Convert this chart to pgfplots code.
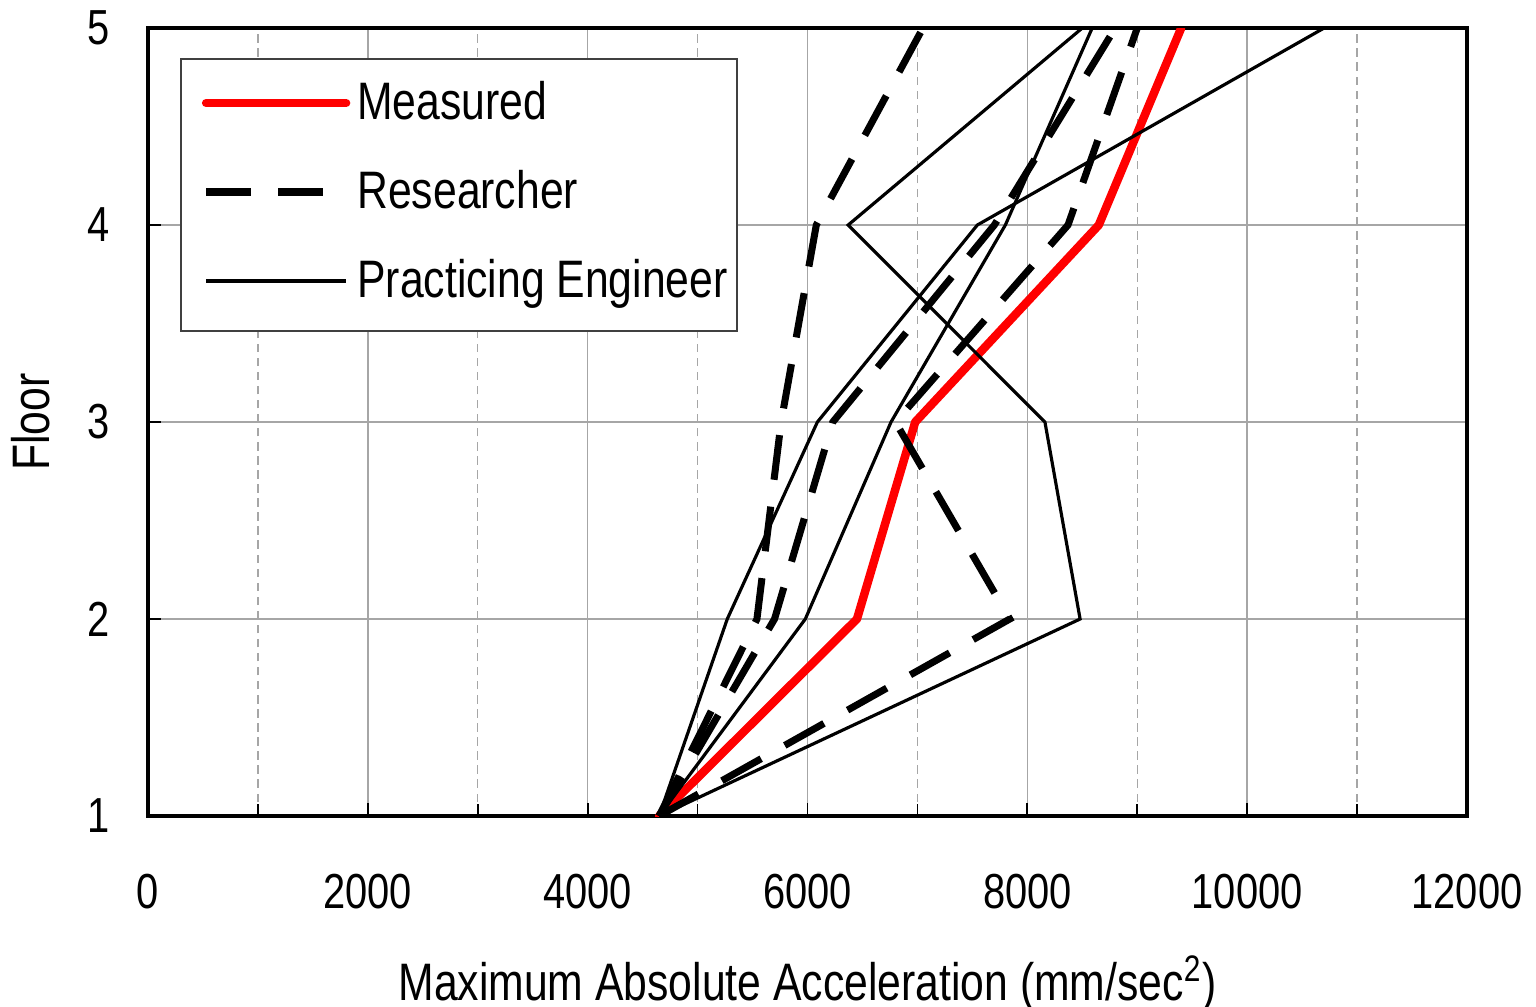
\documentclass[border=0pt]{standalone}
\usepackage{fontspec}
\setmainfont{Liberation Sans}[FakeStretch=0.81]
\usepackage{pgfplots}
\pgfplotsset{compat=1.18}

\begin{document}
\begin{tikzpicture}
\begin{axis}[
  scale only axis,
  width=13.19cm, height=7.88cm,
  xmin=0, xmax=12000, ymin=1, ymax=5,
  xtick={0,2000,...,12000},
  minor xtick={1000,3000,...,11000},
  ytick={1,2,3,4,5},
  scaled ticks=false,
  tick pos=left, tick align=inside,
  major tick length=0.13cm, minor tick length=0.12cm,
  every tick/.style={black, line width=0.5pt},
  grid=both,
  major grid style={black!35, line width=0.4pt},
  minor grid style={black!35, line width=0.4pt, dash pattern=on 2.4pt off 1.6pt},
  axis line style={line width=1pt},
  /pgf/number format/assume math mode=true,
  /pgf/number format/set thousands separator={},
  ticklabel style={font=\fontsize{14}{16}\selectfont, inner sep=0pt},
  xticklabel style={anchor=base, yshift=-0.92cm},
  yticklabel style={anchor=east, xshift=-0.38cm},
  xlabel={Maximum Absolute Acceleration (mm/sec\textsuperscript{2})},
  ylabel={Floor},
  label style={font=\fontsize{15}{18}\selectfont, inner sep=0pt},
  xlabel style={at={(axis description cs:0.5,0)}, anchor=base, yshift=-1.84cm},
  ylabel style={at={(axis description cs:0,0.5)}, anchor=base, yshift=0.98cm},
  legend cell align=left,
  legend image code/.code={%
    \path[draw=none] (0cm,0cm) -- (1.56cm,0cm);
    \draw[#1] (0.16cm,0.03cm) -- (1.56cm,0.03cm);},
  legend style={
    at={(rel axis cs:0.0243,0.962)}, anchor=north west,
    draw=black!75, line width=0.6pt, fill=white,
    inner xsep=0.09cm, inner ysep=0.22cm,
    row sep=0.39cm, column sep=0.07cm,
    font=\fontsize{15}{18}\selectfont,
    nodes={inner sep=0pt, text height=0.38cm, text depth=0.12cm},
  },
]

% measured response
\addplot[red, line width=2.4pt, line cap=round, line join=round]
  coordinates {(4650,1) (6450,2) (6980,3) (8650,4) (9400,5)};
\addlegendentry{Measured}

% researcher predictions
\addplot[black, line width=2pt, dash pattern=on 12.8pt off 7.7pt]
  coordinates {(4650,1) (5540,2) (5760,3) (6080,4) (7050,5)};
\addlegendentry{Researcher}
\addplot[black, line width=2pt, dash pattern=on 12.8pt off 7.7pt, forget plot]
  coordinates {(4650,1) (5700,2) (6230,3) (7700,4) (8800,5)};
\addplot[black, line width=2pt, dash pattern=on 12.8pt off 7.7pt, forget plot]
  coordinates {(4650,1) (7840,2) (6800,3) (8370,4) (9000,5)};

% practicing engineer predictions
\addplot[black, line width=0.9pt]
  coordinates {(4650,1) (5270,2) (6090,3) (7545,4) (10700,5)};
\addlegendentry{Practicing Engineer}
\addplot[black, line width=0.9pt, forget plot]
  coordinates {(4650,1) (5980,2) (6760,3) (7800,4) (8590,5)};
\addplot[black, line width=0.9pt, forget plot]
  coordinates {(4650,1) (8480,2) (8160,3) (6370,4) (8500,5)};
\end{axis}
\pgfresetboundingbox
\path[use as bounding box] (-1.48cm,-1.90cm) rectangle (13.88cm,8.16cm);
\end{tikzpicture}
\end{document}
